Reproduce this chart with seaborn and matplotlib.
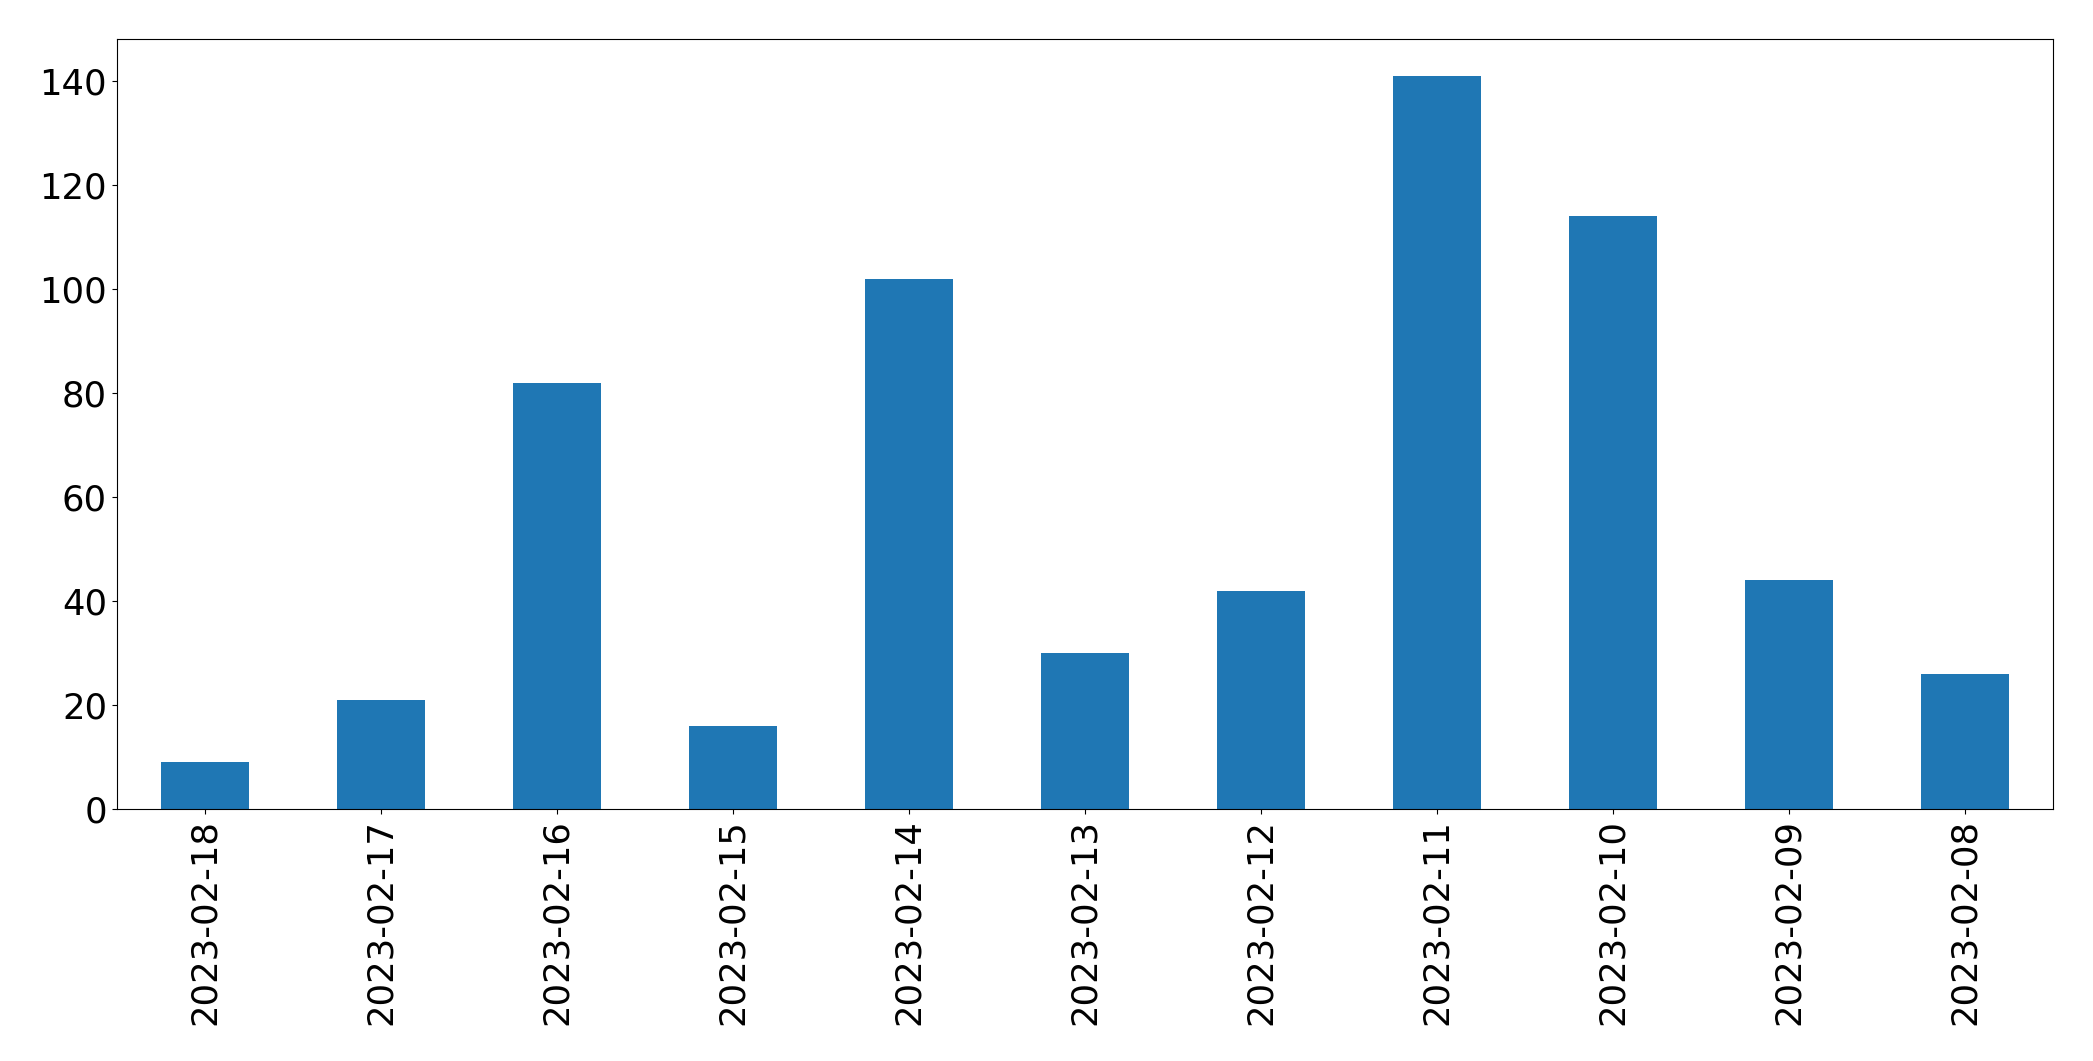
import matplotlib
matplotlib.use("Agg")
import matplotlib.pyplot as plt
import seaborn as sns
import pandas as pd

dates = ["2023-02-18", "2023-02-17", "2023-02-16", "2023-02-15", "2023-02-14",
         "2023-02-13", "2023-02-12", "2023-02-11", "2023-02-10", "2023-02-09",
         "2023-02-08"]
counts = [9, 21, 82, 16, 102, 30, 42, 141, 114, 44, 26]

df = pd.DataFrame({"date": dates, "count": counts})

fig = plt.figure(figsize=(20.93, 10.61), dpi=100)
ax = fig.add_axes([0.0558, 0.2375, 0.9252, 0.7255])
sns.barplot(data=df, x="date", y="count", order=dates, color="#1f77b4",
            saturation=1, width=0.5, ax=ax)
ax.set_xlim(-0.5, len(dates) - 0.5)
ax.set_ylim(0, max(counts) * 1.05)
ax.set_xlabel("")
ax.set_ylabel("")
ax.tick_params(axis="both", labelsize=25.5)
ax.tick_params(axis="x", labelrotation=90)
for s in ax.spines.values():
    s.set_visible(True)
    s.set_color("black")
fig.savefig("out.png", dpi=100)
